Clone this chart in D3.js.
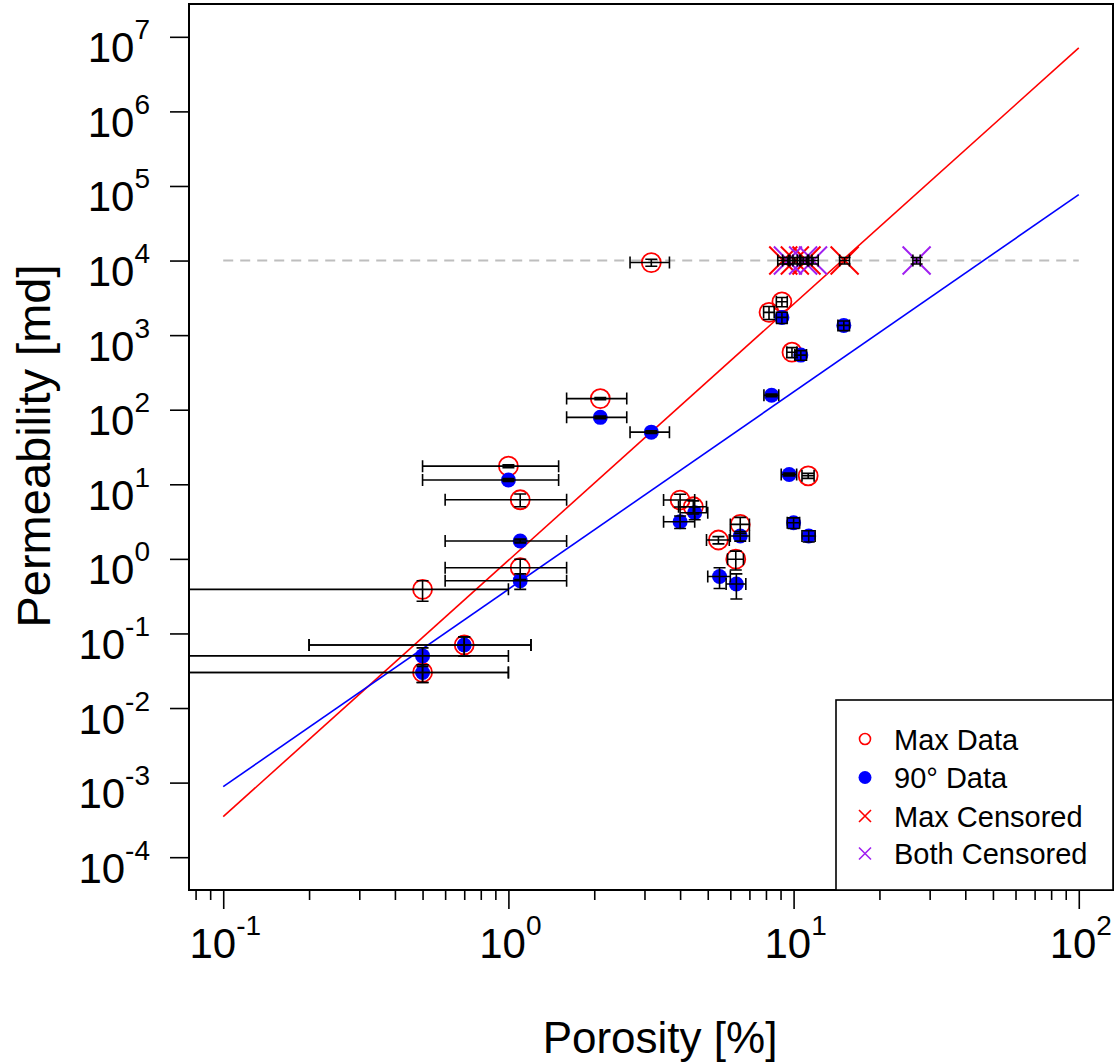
<!DOCTYPE html>
<html>
<head>
<meta charset="utf-8">
<script src="https://cdn.jsdelivr.net/npm/d3@7"></script>
<style>
  body { margin: 0; background: #fff; }
  svg { display: block; font-family: "Liberation Sans", Arial, sans-serif; }
</style>
</head>
<body>
<svg id="chart" width="1117" height="1063"></svg>
<script>
// ---- Max-direction permeability measurements: porosity [%], permeability [md], and their uncertainties
const maxPor      = [3.17, 8.2, 9.1, 9.87, 2.1, 1.0, 11.25, 1.1, 4.0, 4.45, 6.5, 5.45, 6.27, 1.1, 0.5, 0.7, 0.5];
const maxPorErr   = [0.5, 0.35, 0.4, 0.4, 0.5, 0.5, 0.55, 0.5, 0.5, 0.5, 0.5, 0.5, 0.4, 0.5, 0.5, 0.5, 0.5];
const maxPerm     = [9400, 2020, 2800, 590, 141, 17.5, 13, 6.2, 6.15, 5.0, 2.9, 1.79, 0.99, 0.76, 0.39, 0.07, 0.03];
const maxPermErr  = [1000, 400, 400, 90, 5, 0.8, 1.0, 1.2, 1.2, 1.0, 0.7, 0.2, 0.28, 0.23, 0.12, 0.02, 0.008];

// ---- 90-degree permeability measurements
const p90Por      = [9.1, 15.0, 10.6, 8.37, 2.1, 3.17, 1.0, 9.65, 4.5, 4.0, 10.0, 6.5, 11.3, 1.1, 1.1, 5.5, 6.3, 0.7, 0.5, 0.5];
const p90PorErr   = [0.4, 0.7, 0.5, 0.5, 0.5, 0.5, 0.5, 0.6, 0.5, 0.5, 0.5, 0.5, 0.6, 0.5, 0.5, 0.5, 0.5, 0.5, 0.5, 0.5];
const p90Perm     = [1730, 1350, 540, 156, 79, 50, 11.4, 13.5, 4.15, 3.15, 3.05, 2.03, 2.03, 1.74, 0.51, 0.58, 0.46, 0.07, 0.05, 0.03];
const p90PermErr  = [300, 200, 80, 6, 3, 2, 0.5, 0.6, 0.8, 0.6, 0.5, 0.3, 0.35, 0.1, 0.12, 0.18, 0.17, 0.02, 0.014, 0.008];

// ---- Samples whose permeability hit the instrument limit (plotted at the limit)
const censorLimit     = 10000;
const maxCensPor      = [9.2, 10.1, 11.1, 15.1];
const maxCensPorErr   = [0.4, 0.4, 0.5, 0.6];
const bothCensPor     = [9.55, 10.8, 11.7, 27.0];
const bothCensPorErr  = [0.4, 0.5, 0.5, 0.8];
const censPermErr     = 1000;

// ---- Power-law fits: log10(k) = a + b * log10(phi), drawn over phi in fitRange
const fitMax   = [-0.02, 3.436];
const fit90    = [-0.408, 2.646];
const fitRange = [0.1, 100];

// ---- Axis labelling (powers of ten)
const xExponents = [-1, 0, 1, 2];
const yExponents = [-4, -3, -2, -1, 0, 1, 2, 3, 4, 5, 6, 7];
const legendLabels = ["Max Data", "90\u00B0 Data", "Max Censored", "Both Censored"];

const RED = "#ff0000", BLUE = "#0000ff", PURPLE = "#a020f0";
const plot = { left: 189, right: 1113, top: 4, bottom: 890 };

const svg = d3.select("#chart");

const x = d3.scaleLog()
  .domain([Math.pow(10, -1.12), Math.pow(10, 2.12)])
  .range([plot.left, plot.right]);
const y = d3.scaleLog()
  .domain([Math.pow(10, -4.44), Math.pow(10, 7.44)])
  .range([plot.bottom, plot.top]);

const isPow10 = v => Math.abs(Math.log10(v) - Math.round(Math.log10(v))) < 1e-9;

// ---- Axes: long ticks at decades, short ticks in between
function drawTicks(axisFn, scale, transform) {
  const all = scale.ticks();
  const major = all.filter(isPow10);
  const minor = all.filter(v => !isPow10(v));
  [[major, 19], [minor, 10]].forEach(([vals, len]) => {
    const g = svg.append("g").attr("transform", transform)
      .call(axisFn(scale).tickValues(vals).tickSize(len).tickFormat(""));
    g.select(".domain").remove();
    g.selectAll(".tick line").attr("stroke", "#000").attr("stroke-width", 1.6);
  });
}
drawTicks(d3.axisBottom, x, `translate(0,${plot.bottom})`);
drawTicks(d3.axisLeft, y, `translate(${plot.left},0)`);

// Tick labels as 10 with superscript exponent
xExponents.forEach(e => {
  const t = svg.append("text")
    .attr("x", x(Math.pow(10, e)) + 2)
    .attr("y", 958)
    .attr("text-anchor", "middle")
    .attr("fill", "#000");
  t.append("tspan").attr("font-size", 42).text("10");
  t.append("tspan").attr("font-size", 28).attr("dy", -23).text(e < 0 ? "-" + (-e) : String(e));
});
yExponents.forEach(e => {
  const t = svg.append("text")
    .attr("x", 150)
    .attr("y", y(Math.pow(10, e)) + 25.5)
    .attr("text-anchor", "end")
    .attr("fill", "#000");
  t.append("tspan").attr("font-size", 42).text("10");
  t.append("tspan").attr("font-size", 28).attr("dy", -23).text(e < 0 ? "-" + (-e) : String(e));
});

// Axis titles
svg.append("text")
  .attr("x", 660).attr("y", 1053)
  .attr("text-anchor", "middle").attr("font-size", 44)
  .text("Porosity [%]");
svg.append("text")
  .attr("transform", "translate(50,446) rotate(-90)")
  .attr("text-anchor", "middle").attr("font-size", 47)
  .text("Permeability [md]");

// ---- Plot region contents, clipped to the frame
svg.append("clipPath").attr("id", "plotClip")
  .append("rect")
  .attr("x", plot.left).attr("y", plot.top)
  .attr("width", plot.right - plot.left).attr("height", plot.bottom - plot.top);
const pg = svg.append("g").attr("clip-path", "url(#plotClip)");

// Censoring limit
pg.append("line")
  .attr("x1", x(fitRange[0])).attr("x2", x(fitRange[1]))
  .attr("y1", y(censorLimit)).attr("y2", y(censorLimit))
  .attr("stroke", "#bebebe").attr("stroke-width", 2)
  .attr("stroke-dasharray", "10,7");

// Fit lines
[[fitMax, RED], [fit90, BLUE]].forEach(([f, col]) => {
  const pts = fitRange.map(p => [x(p), y(Math.pow(10, f[0] + f[1] * Math.log10(p)))]);
  pg.append("path")
    .attr("d", d3.line()(pts))
    .attr("stroke", col).attr("stroke-width", 1.6).attr("fill", "none");
});

// Symbols
pg.selectAll(".maxpt").data(maxPor).join("circle")
  .attr("class", "maxpt")
  .attr("cx", d => x(d)).attr("cy", (d, i) => y(maxPerm[i]))
  .attr("r", 9.5).attr("fill", "none").attr("stroke", RED).attr("stroke-width", 1.8);
pg.selectAll(".p90pt").data(p90Por).join("circle")
  .attr("class", "p90pt")
  .attr("cx", d => x(d)).attr("cy", (d, i) => y(p90Perm[i]))
  .attr("r", 7.5).attr("fill", BLUE);

function cross(g, cx, cy, s, col, w) {
  g.append("path")
    .attr("d", `M${cx - s},${cy - s}L${cx + s},${cy + s}M${cx - s},${cy + s}L${cx + s},${cy - s}`)
    .attr("stroke", col).attr("stroke-width", w).attr("fill", "none");
}
maxCensPor.forEach(p => cross(pg, x(p), y(censorLimit), 14, RED, 2));
bothCensPor.forEach(p => cross(pg, x(p), y(censorLimit), 14, PURPLE, 2));

// Error bars (horizontal for porosity, vertical for permeability)
const CAP = 6;
function errorBars(por, porErr, perm, permErr) {
  por.forEach((p, i) => {
    const cy = y(perm[i]);
    const lo = p - porErr[i], hi = p + porErr[i];
    const xl = lo > 0 ? x(lo) : plot.left - 5;
    const xr = x(hi);
    let d = `M${xl},${cy}L${xr},${cy}M${xr},${cy - CAP}L${xr},${cy + CAP}`;
    if (lo > 0) d += `M${xl},${cy - CAP}L${xl},${cy + CAP}`;
    const cx = x(p);
    const yt = y(perm[i] + permErr[i]), yb = y(perm[i] - permErr[i]);
    d += `M${cx},${yt}L${cx},${yb}M${cx - CAP},${yt}L${cx + CAP},${yt}M${cx - CAP},${yb}L${cx + CAP},${yb}`;
    pg.append("path").attr("d", d).attr("stroke", "#000").attr("stroke-width", 1.6).attr("fill", "none");
  });
}
errorBars(maxPor, maxPorErr, maxPerm, maxPermErr);
errorBars(p90Por, p90PorErr, p90Perm, p90PermErr);
errorBars(maxCensPor, maxCensPorErr, maxCensPor.map(() => censorLimit), maxCensPor.map(() => censPermErr));
errorBars(bothCensPor, bothCensPorErr, bothCensPor.map(() => censorLimit), bothCensPor.map(() => censPermErr));

// Frame
svg.append("rect")
  .attr("x", plot.left).attr("y", plot.top)
  .attr("width", plot.right - plot.left).attr("height", plot.bottom - plot.top)
  .attr("fill", "none").attr("stroke", "#000").attr("stroke-width", 2);

// ---- Legend
const lg = svg.append("g");
lg.append("rect")
  .attr("x", 836).attr("y", 700)
  .attr("width", plot.right - 836).attr("height", plot.bottom - 700)
  .attr("fill", "#fff").attr("stroke", "#000").attr("stroke-width", 1.6);
const rowY = [739, 777.5, 816, 853.5];
const symX = 865;
lg.append("circle").attr("cx", symX).attr("cy", rowY[0]).attr("r", 5.5)
  .attr("fill", "none").attr("stroke", RED).attr("stroke-width", 1.6);
lg.append("circle").attr("cx", symX).attr("cy", rowY[1]).attr("r", 6.5).attr("fill", BLUE);
cross(lg, symX, rowY[2], 6, RED, 1.6);
cross(lg, symX, rowY[3], 6, PURPLE, 1.6);
legendLabels.forEach((s, i) => {
  lg.append("text").attr("x", 894).attr("y", rowY[i] + 10.5)
    .attr("font-size", 29).attr("fill", "#000").text(s);
});
</script>
</body>
</html>
